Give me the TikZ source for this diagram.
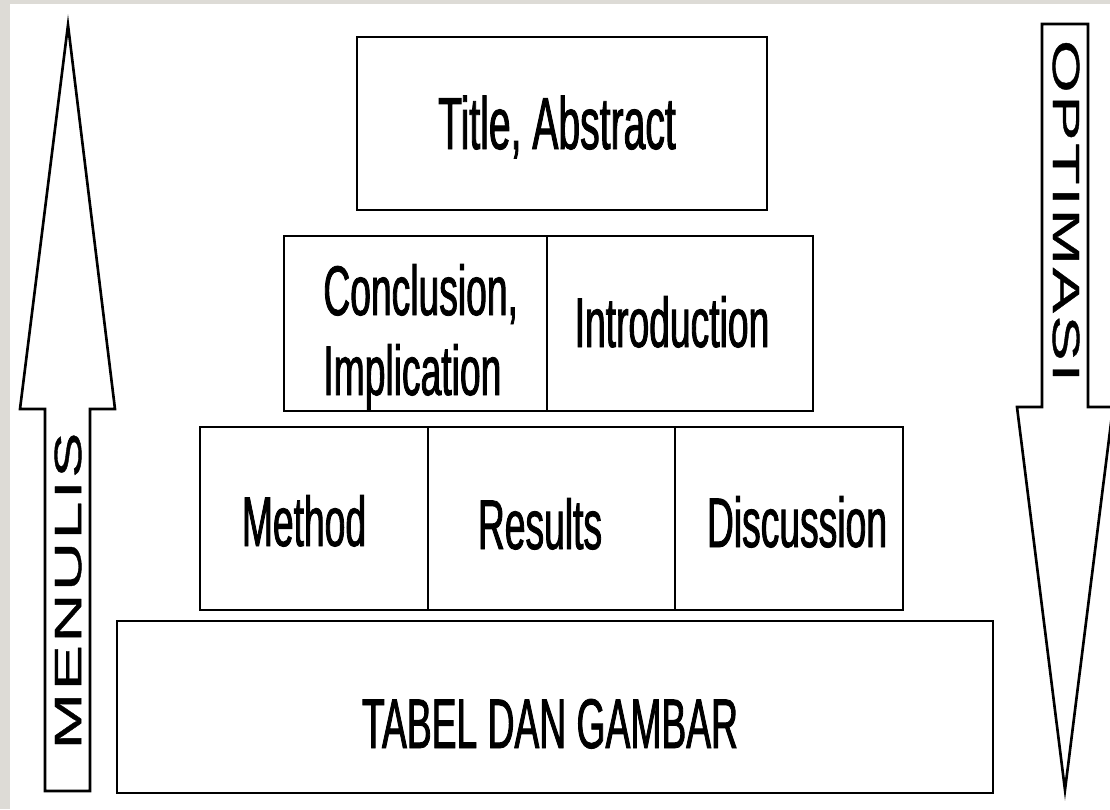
\documentclass[tikz,border=0pt]{standalone}
\usepackage{fontspec}
\newfontfamily\boxfont[FakeStretch=0.53,FakeBold=1.2]{Liberation Sans}
\newfontfamily\sidefont[FakeStretch=1.8,LetterSpace=6,FakeBold=1]{Liberation Sans}
\definecolor{pagegray}{RGB}{221,219,214}

\begin{document}
\begin{tikzpicture}[x=0.02cm, y=-0.02cm]
\tikzstyle{cell}=[draw=none, rectangle, inner sep=0pt, outer sep=0pt]
\tikzstyle{celltext}=[font=\boxfont\fontsize{40}{45.5}\selectfont, inner sep=0pt, anchor=base]
\tikzstyle{frame}=[line width=1.6pt]
\tikzstyle{divider}=[line width=1.1pt]
\tikzstyle{blockarrow}=[line width=1.5pt, line join=miter, fill=white]
\tikzstyle{sidetext}=[font=\sidefont\fontsize{21.6}{21.6}\selectfont, inner sep=0pt]

\useasboundingbox (0,0) rectangle (1110,809);
\fill[pagegray] (0,0) rectangle (1110,809);
\fill[white] (10,4) rectangle (1110,809);

% block arrows at the sides
\draw[blockarrow] (68,25) -- (115,409) -- (90,409) -- (90,791) -- (45,791) -- (45,409) -- (20,409) -- cycle;
\draw[blockarrow] (1042,24) -- (1088,24) -- (1088,407) -- (1113,407) -- (1065,790) -- (1017,407) -- (1042,407) -- cycle;
\node[sidetext, rotate=90] (menulis) at (68, 591) {MENULIS};
\node[sidetext, rotate=-90] (optimasi) at (1066, 211) {OPTIMASI};

% top
\node[cell, minimum width=8.2cm, minimum height=3.46cm] (title) at (562, 123.5) {};
\draw[frame] (title.north west) rectangle (title.south east);
\node[celltext, font=\boxfont\fontsize{42}{42}\selectfont] (titletext) at (557, 149) {Title, Abstract};

% second row
\node[cell, minimum width=5.26cm, minimum height=3.5cm] (concl) at (415.5, 323.5) {};
\node[cell, minimum width=5.32cm, minimum height=3.5cm] (intro) at (680, 323.5) {};
\draw[frame] (concl.north west) rectangle (intro.south east);
\draw[divider] (concl.north east) -- (concl.south east);
\node[celltext, anchor=base west, align=left] (concltext) at (323, 395) {Conclusion,\\Implication};
\node[celltext] (introtext) at (672, 347) {Introduction};

% third row
\node[cell, minimum width=4.56cm, minimum height=3.66cm] (method) at (314, 518.5) {};
\node[cell, minimum width=4.94cm, minimum height=3.66cm] (results) at (551.5, 518.5) {};
\node[cell, minimum width=4.56cm, minimum height=3.66cm] (discussion) at (789, 518.5) {};
\draw[frame] (method.north west) rectangle (discussion.south east);
\draw[divider] (method.north east) -- (method.south east);
\draw[divider] (results.north east) -- (results.south east);
\node[celltext] (methodtext) at (304, 546) {Method};
\node[celltext] (resultstext) at (540, 549) {Results};
\node[celltext] (discussiontext) at (797, 547) {Discussion};

% base
\node[cell, minimum width=17.52cm, minimum height=3.44cm] (tabel) at (555, 707) {};
\draw[frame] (tabel.north west) rectangle (tabel.south east);
\node[celltext] (tabeltext) at (550, 748) {TABEL DAN GAMBAR};

\end{tikzpicture}
\end{document}
